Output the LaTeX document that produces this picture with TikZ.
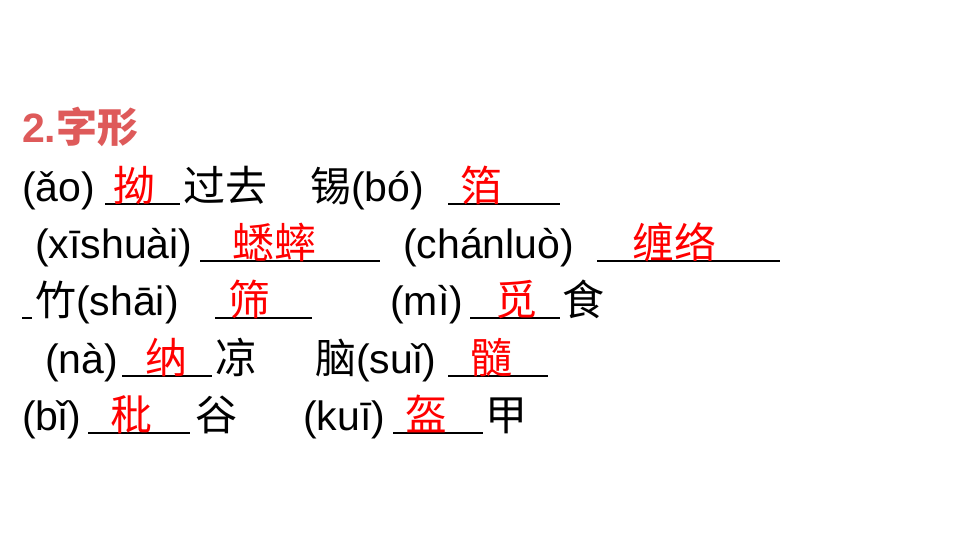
\documentclass[tikz,border=0pt]{standalone}
\usepackage{fontspec}
\setmainfont{Liberation Sans}
\newfontfamily\cjk{Noto Sans CJK SC}
\newfontfamily\cjkb{Noto Sans CJK SC Bold}
\definecolor{ttl}{RGB}{222,90,90}
\begin{document}
\begin{tikzpicture}[x=1pt,y=-1pt,
  t/.style={anchor=base west,inner sep=0pt,font=\fontsize{41}{44}\selectfont},
  r/.style={t,text=red,font=\fontsize{42}{44}\selectfont\cjk},
  c/.style={t,font=\fontsize{42}{44}\selectfont\cjk},
  u/.style={line width=1.3pt}]
\useasboundingbox (0,0) rectangle (960,540);
\fill[white] (0,0) rectangle (960,540);
\node[t,text=ttl,font=\fontsize{41}{44}\selectfont\bfseries] (title) at (22,143) {2.{\cjkb 字形}};
% line 1
\node[t] (a1) at (22,201) {(ǎo)};
\draw[u] (105,204) coordinate (u1a) -- (180,204) coordinate (u1b);
\node[r] (b1) at (113,201) {拗};
\node[c] (c1) at (183,201) {过去};
\node[t] (d1) at (310,201) {{\cjk 锡}(bó)};
\draw[u] (448,204) coordinate (u2a) -- (560,204) coordinate (u2b);
\node[r] (e1) at (460,201) {箔};
% line 2
\node[t] (a2) at (35,258) {(xīshuài)};
\draw[u] (200,261) coordinate (u3a) -- (380,261) coordinate (u3b);
\node[r] (b2) at (232,258) {蟋蟀};
\node[t] (c2) at (403,258) {(chánluò)};
\draw[u] (597,261) coordinate (u4a) -- (780,261) coordinate (u4b);
\node[r] (d2) at (632,258) {缠络};
% line 3
\draw[u] (22,318) coordinate (u5a) -- (32,318) coordinate (u5b);
\node[t] (a3) at (35,315) {{\cjk 竹}(shāi)};
\draw[u] (215,318) coordinate (u6a) -- (312,318) coordinate (u6b);
\node[r] (b3) at (228,315) {筛};
\node[t] (c3) at (390,315) {(mì)};
\draw[u] (470,318) coordinate (u7a) -- (560,318) coordinate (u7b);
\node[r] (d3) at (495,315) {觅};
\node[c] (e3) at (562,315) {食};
% line 4
\node[t] (a4) at (45,373) {(nà)};
\draw[u] (122,376) coordinate (u8a) -- (212,376) coordinate (u8b);
\node[r] (b4) at (145,373) {纳};
\node[c] (c4) at (215,373) {凉};
\node[t] (d4) at (315,373) {{\cjk 脑}(suǐ)};
\draw[u] (448,376) coordinate (u9a) -- (548,376) coordinate (u9b);
\node[r] (e4) at (470,373) {髓};
% line 5
\node[t] (a5) at (22,430) {(bǐ)};
\draw[u] (88,433) coordinate (uAa) -- (190,433) coordinate (uAb);
\node[r] (b5) at (110,430) {秕};
\node[c] (c5) at (195,430) {谷};
\node[t] (d5) at (303,430) {(kuī)};
\draw[u] (393,433) coordinate (uBa) -- (483,433) coordinate (uBb);
\node[r] (e5) at (405,430) {盔};
\node[c] (f5) at (485,430) {甲};
\end{tikzpicture}
\end{document}
